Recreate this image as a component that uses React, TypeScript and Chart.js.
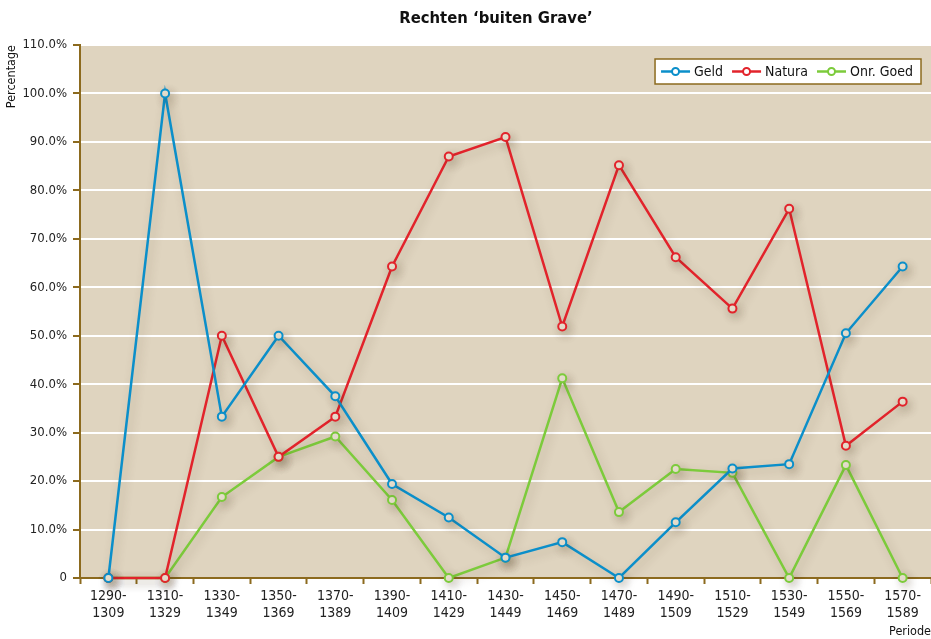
import React, { useEffect, useRef } from "react";
import { Chart, registerables } from "chart.js";

Chart.register(...registerables);

const periods: string[][] = [
  ["1290-", "1309"], ["1310-", "1329"], ["1330-", "1349"], ["1350-", "1369"], ["1370-", "1389"],
  ["1390-", "1409"], ["1410-", "1429"], ["1430-", "1449"], ["1450-", "1469"], ["1470-", "1489"],
  ["1490-", "1509"], ["1510-", "1529"], ["1530-", "1549"], ["1550-", "1569"], ["1570-", "1589"],
];
const geld = [0, 100, 33.3, 50, 37.5, 19.4, 12.5, 4.2, 7.4, 0, 11.5, 22.6, 23.5, 50.5, 64.3];
const natura = [0, 0, 50, 25, 33.3, 64.3, 87, 91, 51.9, 85.2, 66.2, 55.6, 76.2, 27.3, 36.4];
const onrGoed = [0, 0, 16.7, 25, 29.2, 16.1, 0, 4.2, 41.2, 13.6, 22.5, 21.7, 0, 23.3, 0];

const seriesNames = ["Geld", "Natura", "Onr. Goed"];
const seriesColors = ["#0b8fca", "#e2232b", "#7ccb3b"];
const titleText = "Rechten \u2018buiten Grave\u2019";

const FONT = '"Liberation Sans Narrow", "DejaVu Sans Condensed", "Arial Narrow", sans-serif';
const PLOT_BG = "#dfd4bf";
const AXIS = "#8c6a1e";

const bgPlugin = {
  id: "plotBg",
  beforeDraw(chart: any) {
    const { ctx, chartArea: a } = chart;
    ctx.save();
    ctx.fillStyle = PLOT_BG;
    ctx.fillRect(a.left, a.top, a.right - a.left, a.bottom - a.top);
    ctx.restore();
  },
  beforeDatasetsDraw(chart: any) {
    const ctx = chart.ctx;
    ctx.save();
    ctx.shadowColor = "rgba(80,60,30,0.25)";
    ctx.shadowBlur = 10;
    ctx.shadowOffsetX = 3;
    ctx.shadowOffsetY = 4;
  },
  afterDatasetsDraw(chart: any) {
    chart.ctx.restore();
  },
};

const titlePlugin = {
  id: "customTitle",
  afterDraw(chart: any) {
    const { ctx } = chart;
    ctx.save();
    ctx.fillStyle = "#111";
    ctx.font = `bold 16.5px ${FONT}`;
    ctx.textAlign = "center";
    ctx.textBaseline = "middle";
    ctx.fillText(titleText, 496, 19);
    ctx.restore();
  },
};

const legendPlugin = {
  id: "boxLegend",
  afterDraw(chart: any) {
    const { ctx, chartArea: a } = chart;
    ctx.save();
    ctx.font = `14px ${FONT}`;
    const lineW = 29;
    const gap = 4;
    const itemGap = 9;
    const padL = 6;
    const padR = 8;
    const widths = seriesNames.map((n) => lineW + gap + ctx.measureText(n).width);
    const total = widths.reduce((s, w) => s + w, 0) + itemGap * (seriesNames.length - 1) + padL + padR;
    const h = 25;
    const x0 = a.right - 10 - total;
    const y0 = a.top + 14;
    ctx.fillStyle = "#ffffff";
    ctx.fillRect(x0, y0, total, h);
    ctx.strokeStyle = AXIS;
    ctx.lineWidth = 1.5;
    ctx.strokeRect(x0, y0, total, h);
    let x = x0 + padL;
    const cy = y0 + h / 2;
    seriesNames.forEach((n, i) => {
      ctx.strokeStyle = seriesColors[i];
      ctx.lineWidth = 2.5;
      ctx.beginPath();
      ctx.moveTo(x, cy);
      ctx.lineTo(x + lineW, cy);
      ctx.stroke();
      ctx.beginPath();
      ctx.arc(x + lineW / 2, cy, 3.5, 0, Math.PI * 2);
      ctx.fillStyle = "#ffffff";
      ctx.fill();
      ctx.lineWidth = 2;
      ctx.stroke();
      ctx.fillStyle = "#111";
      ctx.textAlign = "left";
      ctx.textBaseline = "middle";
      ctx.fillText(n, x + lineW + gap, cy + 1);
      x += widths[i] + itemGap;
    });
    ctx.restore();
  },
};

export default function App() {
  const ref = useRef<HTMLCanvasElement | null>(null);
  useEffect(() => {
    if (!ref.current) return;
    const data = [geld, natura, onrGoed];
    const chart = new Chart(ref.current, {
      type: "line",
      data: {
        labels: periods,
        datasets: seriesNames.map((name, i) => ({
          label: name,
          data: data[i],
          borderColor: seriesColors[i],
          backgroundColor: seriesColors[i],
          borderWidth: 2.5,
          tension: 0,
          pointRadius: 4,
          pointBorderWidth: 2,
          pointBackgroundColor: "#ebe3d2",
          pointBorderColor: seriesColors[i],
          fill: false,
          clip: false,
        })),
      },
      options: {
        animation: false,
        responsive: false,
        maintainAspectRatio: false,
        layout: { autoPadding: false, padding: { top: 45, right: 0, left: 0, bottom: 0 } },
        plugins: {
          legend: { display: false },
          title: { display: false },
          tooltip: { enabled: false },
        },
        scales: {
          x: {
            type: "category",
            offset: true,
            afterFit(scale: any) {
              scale.height = 61;
              scale.paddingLeft = 0;
              scale.paddingRight = 0;
            },
            grid: {
              offset: true,
              drawOnChartArea: false,
              drawTicks: true,
              tickLength: 6,
              tickWidth: 2,
              tickColor: AXIS,
            },
            border: { color: AXIS, width: 2 },
            ticks: {
              color: "#222",
              font: { family: FONT, size: 14 },
              padding: 4,
              maxRotation: 0,
              autoSkip: false,
            },
            title: {
              display: true,
              text: "Periode",
              align: "end",
              color: "#111",
              font: { family: FONT, size: 12.5 },
              padding: { top: 0, bottom: 0 },
            },
          },
          y: {
            min: 0,
            max: 110,
            afterFit(scale: any) {
              scale.width = 80;
              scale.paddingTop = 0;
              scale.paddingBottom = 0;
            },
            ticks: {
              stepSize: 10,
              color: "#222",
              font: { family: FONT, size: 13 },
              padding: 6,
              callback: (v: any) => (Number(v) === 0 ? "0" : Number(v).toFixed(1) + "%"),
            },
            grid: {
              color: "#ffffff",
              lineWidth: 2,
              tickColor: AXIS,
              tickLength: 7,
              tickWidth: 2,
            },
            border: { color: AXIS, width: 2 },
            title: {
              display: true,
              text: "Percentage",
              align: "end",
              color: "#111",
              font: { family: FONT, size: 12.5 },
              padding: { top: 4, bottom: 0 },
            },
          },
        },
      },
      plugins: [bgPlugin, titlePlugin, legendPlugin],
    } as any);
    return () => chart.destroy();
  }, []);
  return (
    <div style={{ position: "fixed", left: 0, top: 0, width: 931, height: 639, background: "#fff" }}>
      <canvas ref={ref} width={931} height={639} style={{ display: "block", width: 931, height: 639 }} />
    </div>
  );
}
